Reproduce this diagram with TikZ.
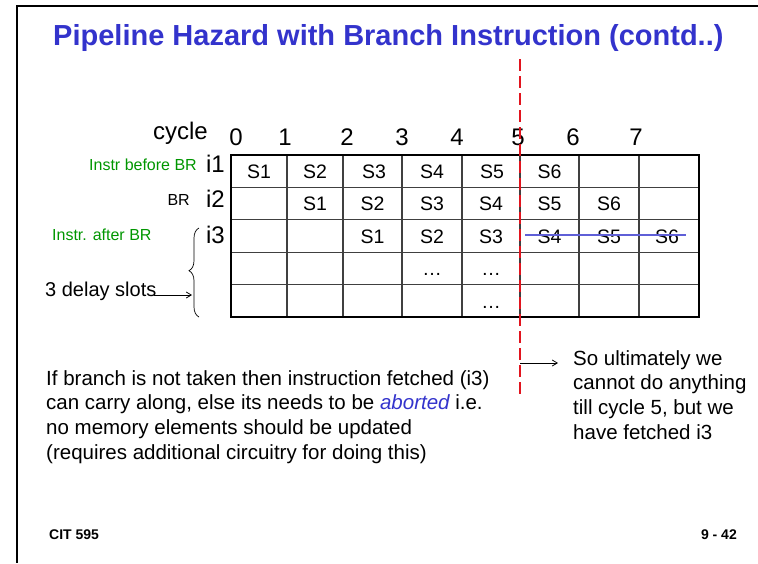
\documentclass[tikz,border=0pt]{standalone}
\usepackage{fontspec}
\setmainfont{Liberation Sans}
\usetikzlibrary{arrows.meta,decorations.pathreplacing}
\definecolor{titleblue}{RGB}{51,51,204}
\definecolor{lblgreen}{RGB}{0,150,0}
\definecolor{dashred}{RGB}{225,20,30}
\definecolor{strikeblue}{RGB}{95,95,215}
\begin{document}
\begin{tikzpicture}[x=1pt,y=-1pt,
  titletxt/.style={font=\fontsize{29}{34}\selectfont\bfseries, text=titleblue, anchor=base west, inner sep=0},
  bigtxt/.style={font=\fontsize{24}{28}\selectfont, anchor=base, inner sep=0},
  celltxt/.style={font=\fontsize{19.5}{23}\selectfont, anchor=base, inner sep=0},
  notetxt/.style={font=\fontsize{16}{19}\selectfont, inner sep=0},
  paratxt/.style={font=\fontsize{20.5}{24.7}\selectfont, anchor=base west, inner sep=0},
  foottxt/.style={font=\fontsize{14}{17}\selectfont\bfseries, inner sep=0},
  innerline/.style={black!75, line width=1.1pt},
  outerline/.style={black, line width=2pt},
  thinarrow/.style={-{Straight Barb[length=5pt,width=6pt]}, line width=0.8pt}
]
\useasboundingbox (0,0) rectangle (758,563);
% frame
\draw[line width=2.6pt] (758,6) -- (17,6) -- (17,563);
% title
\node[titletxt] (title) at (53,45) {Pipeline Hazard with Branch Instruction (contd..)};
% cycle header
\node[bigtxt, anchor=base east] (cyc) at (208,139) {cycle};
\node[bigtxt] (n0) at (236,145) {0};
\node[bigtxt] (n1) at (285,145) {1};
\node[bigtxt] (n2) at (347,145) {2};
\node[bigtxt] (n3) at (402,145) {3};
\node[bigtxt] (n4) at (457,145) {4};
\node[bigtxt] (n5) at (518,145) {5};
\node[bigtxt] (n6) at (573,145) {6};
\node[bigtxt] (n7) at (636,145) {7};
% row labels
\node[bigtxt, anchor=base east] (i1) at (225,172) {i1};
\node[bigtxt, anchor=base east] (i2) at (225,207) {i2};
\node[bigtxt, anchor=base east] (i3) at (225,243) {i3};
\node[notetxt, text=lblgreen, anchor=base east] (g1) at (197,170) {Instr before BR};
\node[notetxt, anchor=base east] (br) at (190,205.5) {BR};
\node[notetxt, text=lblgreen, anchor=base west] (g3) at (52,240) {Instr. after BR};
\node[font=\fontsize{20}{24}\selectfont, inner sep=0, anchor=base west] (dly) at (45,296) {3 delay slots};
% table grid
\foreach \x in {287,343,402,462,520,579,639}
  \draw[innerline] (\x,155) -- (\x,317);
\foreach \y in {187.4,219.8,252.2,284.6}
  \draw[innerline] (231,\y) -- (699,\y);
\draw[outerline] (231,155) rectangle (699,317);
% cells row 1
\node[celltxt] (c10) at (259,178.5) {S1};
\node[celltxt] (c11) at (315,178.5) {S2};
\node[celltxt] (c12) at (374,178.5) {S3};
\node[celltxt] (c13) at (432,178.5) {S4};
\node[celltxt] (c14) at (492,178.5) {S5};
\node[celltxt] (c15) at (549.5,178.5) {S6};
% row 2
\node[celltxt] (c21) at (315,210.8) {S1};
\node[celltxt] (c22) at (372.5,210.8) {S2};
\node[celltxt] (c23) at (432,210.8) {S3};
\node[celltxt] (c24) at (491,210.8) {S4};
\node[celltxt] (c25) at (549.5,210.8) {S5};
\node[celltxt] (c26) at (609,210.8) {S6};
% row 3
\node[celltxt] (c32) at (372.5,243.2) {S1};
\node[celltxt] (c33) at (432,243.2) {S2};
\node[celltxt] (c34) at (491,243.2) {S3};
\node[celltxt] (c35) at (549.5,243.2) {S4};
\node[celltxt] (c36) at (609,243.2) {S5};
\node[celltxt] (c37) at (667,243.2) {S6};
% rows 4-5
\node[celltxt] (c43) at (432,275.6) {…};
\node[celltxt] (c44) at (491,275.6) {…};
\node[celltxt] (c54) at (491,308) {…};
% strike through aborted stages
\coordinate (stA) at (525,235);
\coordinate (stB) at (686,235);
\draw[strikeblue, line width=1.1pt] (stA) -- (stB);
% brace
\draw[line width=0.7pt, decorate, decoration={brace, amplitude=10pt, aspect=0.52}] (199,317) -- (199,228);
\coordinate (braceIn) at (192,295);
\draw[thinarrow] (dly.base east) ++(-3,-1) -- (braceIn);
% red dashed line
\coordinate (redtop) at (520,59);
\coordinate (redbot) at (520,397);
\draw[dashred, line width=1.3pt, dash pattern=on 12pt off 5pt] (redtop) -- (redbot);
\coordinate (arS) at (520,363);
\coordinate (arE) at (558,363);
\draw[thinarrow] (arS) -- (arE);
% right note
\node[paratxt] (r1) at (573,365) {So ultimately we};
\node[paratxt] (r2) at (573,389.7) {cannot do anything};
\node[paratxt] (r3) at (573,414.4) {till cycle 5, but we};
\node[paratxt] (r4) at (573,439) {have fetched i3};
% left paragraph
\node[paratxt] (p1) at (46,385) {If branch is not taken then instruction fetched (i3)};
\node[paratxt] (p2) at (46,409.7) {can carry along, else its needs to be \textcolor{titleblue}{\itshape aborted} i.e.};
\node[paratxt] (p3) at (46,434.4) {no memory elements should be updated};
\node[paratxt] (p4) at (46,459) {(requires additional circuitry for doing this)};
% footer
\node[foottxt, anchor=base west] (f1) at (49,539) {CIT 595};
\node[foottxt, anchor=base east] (f2) at (737,539) {9 - 42};
\end{tikzpicture}
\end{document}
